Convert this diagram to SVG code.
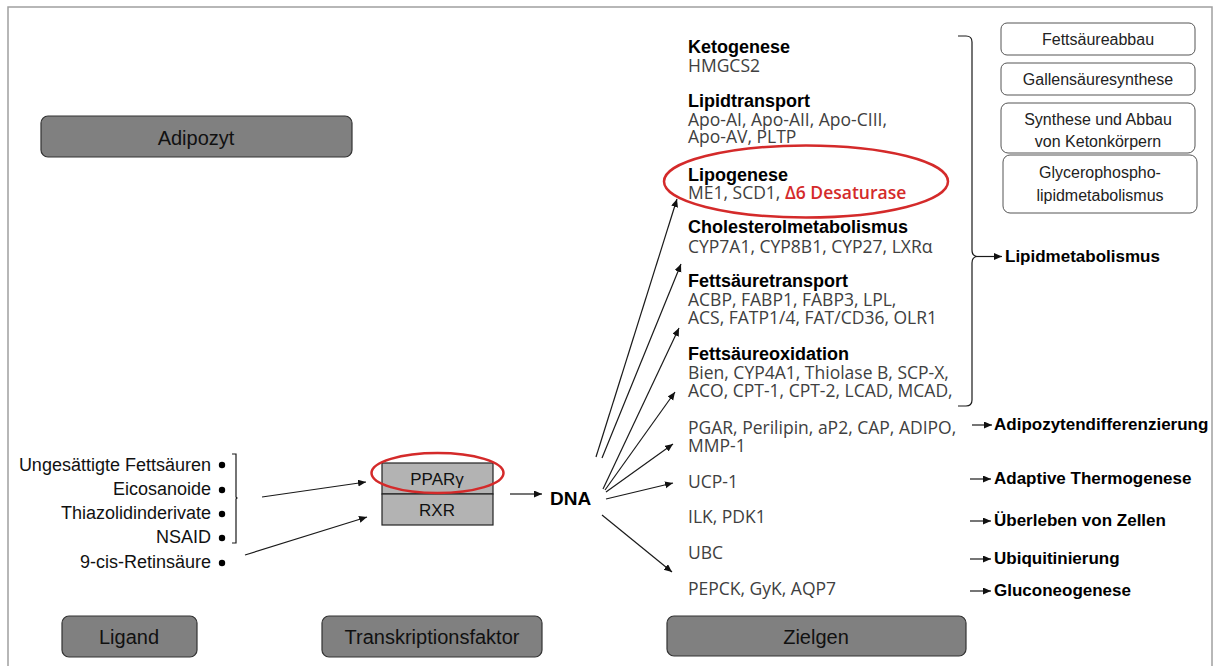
<svg xmlns="http://www.w3.org/2000/svg" width="1215" height="666" viewBox="0 0 1215 666">
<defs>
<marker id="ah" markerUnits="userSpaceOnUse" markerWidth="9" markerHeight="8" refX="8" refY="3.5" orient="auto">
<path d="M0,0 L8,3.5 L0,7 Z" fill="#111"/>
</marker>
</defs>
<style>
.frame{fill:#fff;stroke:#a0a0a0;stroke-width:1.5}
.gbox{fill:#808080;stroke:#333;stroke-width:1.2}
.wbox{fill:#fff;stroke:#555;stroke-width:1}
.lbl{font-family:"Liberation Sans",Arial,sans-serif;font-size:20px;fill:#111;text-anchor:middle}
.lig{font-family:"Liberation Sans",Arial,sans-serif;font-size:18px;fill:#111;text-anchor:end}
.hd{font-family:"Liberation Sans",Arial,sans-serif;font-size:18px;font-weight:bold;fill:#000}
.gn{font-family:"Open Sans","Liberation Sans",sans-serif;font-size:17.5px;fill:#404040}
.res{font-family:"Liberation Sans",Arial,sans-serif;font-size:17px;font-weight:bold;fill:#000}
.bx{font-family:"Liberation Sans",Arial,sans-serif;font-size:16px;fill:#222;text-anchor:middle}
.con{stroke:#1a1a1a;stroke-width:1.2;fill:none}
.red{fill:none;stroke:#d42a2a;stroke-width:2.5}
</style>
<rect class="frame" x="8" y="7" width="1204" height="670"/>

<g id="adipozyt">
<rect class="gbox" x="41" y="116" width="311" height="41" rx="7"/>
<text class="lbl" x="196" y="145">Adipozyt</text>
</g>
<g id="ligand-label">
<rect class="gbox" x="62" y="616" width="135" height="41" rx="7"/>
<text class="lbl" x="129" y="644">Ligand</text>
</g>
<g id="tf-label">
<rect class="gbox" x="322" y="616" width="220" height="41" rx="7"/>
<text class="lbl" x="432" y="644">Transkriptionsfaktor</text>
</g>
<g id="zielgen-label">
<rect class="gbox" x="667" y="616" width="299" height="40" rx="7"/>
<text class="lbl" x="816" y="644">Zielgen</text>
</g>

<g id="ligands">
<text class="lig" x="211" y="471">Ungesättigte Fettsäuren</text>
<text class="lig" x="211" y="495">Eicosanoide</text>
<text class="lig" x="211" y="519">Thiazolidinderivate</text>
<text class="lig" x="211" y="543">NSAID</text>
<text class="lig" x="211" y="568">9-cis-Retinsäure</text>
<circle cx="222" cy="465" r="3.2" fill="#000"/>
<circle cx="222" cy="490" r="3.2" fill="#000"/>
<circle cx="222" cy="514" r="3.2" fill="#000"/>
<circle cx="222" cy="538" r="3.2" fill="#000"/>
<circle cx="222" cy="563" r="3.2" fill="#000"/>
<path class="con" d="M232,454 H236 V497 L237,498 L236,499 V543 H232" stroke-width="1"/>
</g>

<g id="ppar-rxr">
<rect x="382" y="463" width="111" height="31" fill="#b3b3b3" stroke="#222" stroke-width="1.2"/>
<rect x="382" y="494" width="111" height="31" fill="#b3b3b3" stroke="#222" stroke-width="1.2"/>
<text class="lbl" x="437" y="485" style="font-size:17px">PPARγ</text>
<text class="lbl" x="437" y="516" style="font-size:17px">RXR</text>
<ellipse class="red" cx="437.5" cy="473" rx="66" ry="20"/>
</g>

<g id="dna">
<text x="550" y="505" font-family="Liberation Sans, Arial, sans-serif" font-size="19" font-weight="bold" fill="#000">DNA</text>
</g>

<g id="targets">
<text class="hd" x="688" y="53">Ketogenese</text>
<text class="gn" x="688" y="72">HMGCS2</text>
<text class="hd" x="688" y="107">Lipidtransport</text>
<text class="gn" x="688" y="126">Apo-AI, Apo-AII, Apo-CIII,</text>
<text class="gn" x="688" y="143">Apo-AV, PLTP</text>
<text class="hd" x="688" y="181">Lipogenese</text>
<text class="gn" x="688" y="199">ME1, SCD1, <tspan fill="#d42a2a" font-weight="600">Δ6 Desaturase</tspan></text>
<ellipse class="red" cx="806" cy="181.5" rx="142" ry="36"/>
<text class="hd" x="688" y="233">Cholesterolmetabolismus</text>
<text class="gn" x="688" y="253">CYP7A1, CYP8B1, CYP27, LXRα</text>
<text class="hd" x="688" y="287">Fettsäuretransport</text>
<text class="gn" x="688" y="306">ACBP, FABP1, FABP3, LPL,</text>
<text class="gn" x="688" y="324">ACS, FATP1/4, FAT/CD36, OLR1</text>
<text class="hd" x="688" y="360">Fettsäureoxidation</text>
<text class="gn" x="688" y="379">Bien, CYP4A1, Thiolase B, SCP-X,</text>
<text class="gn" x="688" y="397">ACO, CPT-1, CPT-2, LCAD, MCAD,</text>
<text class="gn" x="688" y="434">PGAR, Perilipin, aP2, CAP, ADIPO,</text>
<text class="gn" x="688" y="452">MMP-1</text>
<text class="gn" x="688" y="488">UCP-1</text>
<text class="gn" x="688" y="523">ILK, PDK1</text>
<text class="gn" x="688" y="559">UBC</text>
<text class="gn" x="688" y="595">PEPCK, GyK, AQP7</text>
</g>

<g id="brace">
<path class="con" stroke-width="1" d="M958,36 H966 Q972,36 972,42 V250 Q972,256 977,256.5 Q972,257 972,263 V400 Q972,406 966,406 H958"/>
</g>

<g id="categories">
<text class="res" x="1005" y="262">Lipidmetabolismus</text>
<text class="res" x="994" y="430">Adipozytendifferenzierung</text>
<text class="res" x="994" y="484">Adaptive Thermogenese</text>
<text class="res" x="994" y="526">Überleben von Zellen</text>
<text class="res" x="994" y="564">Ubiquitinierung</text>
<text class="res" x="994" y="596">Gluconeogenese</text>
</g>

<g id="boxes-right">
<g id="b-fettsaeureabbau"><rect class="wbox" x="1001" y="23" width="194" height="32" rx="6"/><text class="bx" x="1098" y="45">Fettsäureabbau</text></g>
<g id="b-gallensaeure"><rect class="wbox" x="1001" y="63" width="194" height="32" rx="6"/><text class="bx" x="1098" y="85">Gallensäuresynthese</text></g>
<g id="b-keton"><rect class="wbox" x="1001" y="103" width="194" height="50" rx="7"/><text class="bx" x="1098" y="125">Synthese und Abbau</text><text class="bx" x="1098" y="147">von Ketonkörpern</text></g>
<g id="b-glycero"><rect class="wbox" x="1003" y="155" width="194" height="58" rx="7"/><text class="bx" x="1100" y="178">Glycerophospho-</text><text class="bx" x="1100" y="201">lipidmetabolismus</text></g>
</g>

<g id="connectors">
<line class="con" x1="262" y1="497" x2="366" y2="482" marker-end="url(#ah)"/>
<line class="con" x1="245" y1="555" x2="367" y2="517" marker-end="url(#ah)"/>
<line class="con" x1="510" y1="494" x2="542" y2="494" marker-end="url(#ah)"/>
<line class="con" x1="596" y1="457" x2="677" y2="199" marker-end="url(#ah)"/>
<line class="con" x1="602" y1="458" x2="681" y2="264" marker-end="url(#ah)"/>
<line class="con" x1="603" y1="489" x2="679" y2="328" marker-end="url(#ah)"/>
<line class="con" x1="605" y1="490" x2="675" y2="392" marker-end="url(#ah)"/>
<line class="con" x1="606" y1="492" x2="673" y2="444" marker-end="url(#ah)"/>
<line class="con" x1="606" y1="499" x2="673" y2="483" marker-end="url(#ah)"/>
<line class="con" x1="602" y1="515" x2="672" y2="572" marker-end="url(#ah)"/>
<line class="con" x1="977" y1="256.5" x2="1002" y2="256.5" marker-end="url(#ah)"/>
<line class="con" x1="972" y1="425" x2="992" y2="425" marker-end="url(#ah)"/>
<line class="con" x1="970" y1="479" x2="991" y2="479" marker-end="url(#ah)"/>
<line class="con" x1="970" y1="521" x2="991" y2="521" marker-end="url(#ah)"/>
<line class="con" x1="970" y1="559" x2="991" y2="559" marker-end="url(#ah)"/>
<line class="con" x1="970" y1="591" x2="991" y2="591" marker-end="url(#ah)"/>
</g>
</svg>
